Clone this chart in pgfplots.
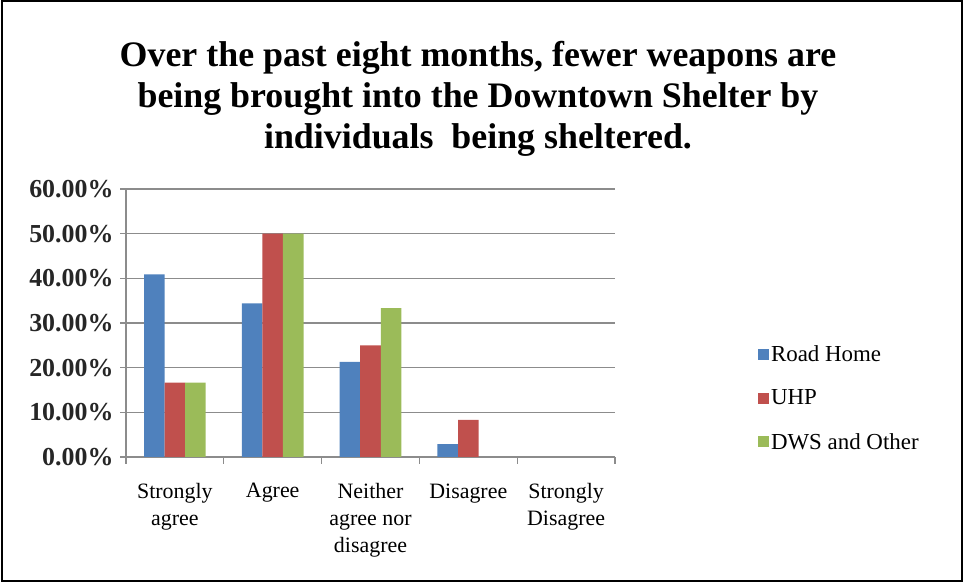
\documentclass[border=0pt]{standalone}
\usepackage{pgfplots}
\pgfplotsset{compat=1.18}
\usepackage{fontspec}
\setmainfont{Liberation Serif}

\definecolor{rhblue}{HTML}{4F81BD}
\definecolor{uhpred}{HTML}{C0504D}
\definecolor{dwsgreen}{HTML}{9BBB59}
\definecolor{axgray}{HTML}{8C8C8C}

\begin{document}
\begin{tikzpicture}
\useasboundingbox (0bp,0bp) rectangle (964bp,582bp);
\draw[line width=1.5bp] (2bp,1bp) rectangle (962bp,581bp);

% title
\node[font=\bfseries\fontsize{36}{41}\selectfont, align=center] at (478bp,483bp)
  {Over the past eight months, fewer weapons are\\
   being brought into the Downtown Shelter by\\
   individuals\ \ being sheltered.};

\begin{axis}[
  at={(126bp,125bp)}, anchor=south west,
  scale only axis, width=489bp, height=268bp,
  ybar=0pt, bar width=0.21,
  xmin=-0.5, xmax=4.5, ymin=0, ymax=60,
  axis x line*=bottom, axis y line*=left,
  axis line style={draw=axgray, line width=1.2bp},
  xtick={0,1,2,3,4},
  xticklabels={Strongly\\agree, Agree, Neither\\agree nor\\disagree, Disagree, Strongly\\Disagree},
  xticklabel style={align=center, font=\fontsize{22}{27}\selectfont, yshift=-17bp},
  minor xtick={-0.5,0.5,...,4.5},
  major x tick style={draw=none},
  ytick={0,10,...,60},
  yticklabels={0.00\%,10.00\%,20.00\%,30.00\%,40.00\%,50.00\%,60.00\%},
  yticklabel style={font=\bfseries\fontsize{26}{28}\selectfont, text=black!85, xshift=-3bp},
  tick style={draw=axgray, line width=1.2bp},
  tick align=outside, major tick length=6bp, minor tick length=7bp,
  ymajorgrids, major grid style={draw=axgray, line width=1.2bp},
  legend cell align=left,
  legend image code/.code={\fill[#1, draw=none] (0bp,-5.5bp) rectangle (11bp,5.5bp);},
  legend style={at={(1.286,0.22)}, anchor=west, draw=none, fill=none,
    font=\fontsize{23}{26}\selectfont, row sep=27bp,
    nodes={inner xsep=2bp, inner ysep=0bp}},
]
\addplot[fill=rhblue, draw=none] coordinates {(0,40.9) (1,34.4) (2,21.3) (3,2.9) (4,0)};
\addplot[fill=uhpred, draw=none] coordinates {(0,16.67) (1,50) (2,25) (3,8.33) (4,0)};
\addplot[fill=dwsgreen, draw=none] coordinates {(0,16.67) (1,50) (2,33.33) (3,0) (4,0)};
\legend{Road Home, UHP, DWS and Other}
\end{axis}
\end{tikzpicture}
\end{document}
